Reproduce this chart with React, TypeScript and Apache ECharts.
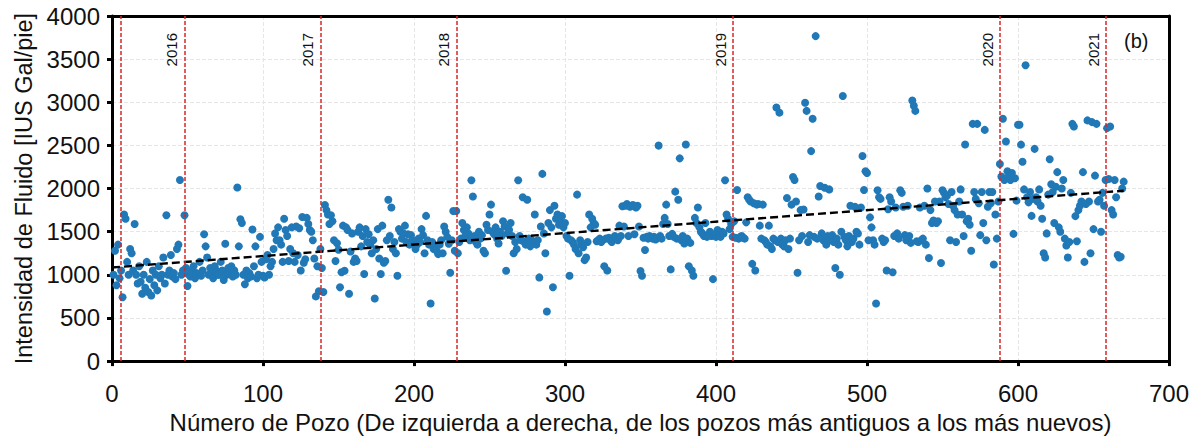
import React, { useEffect, useRef } from "react";
import * as echarts from "echarts";

// Fluid intensity per well, wells numbered 1..670 (x = index + 1)
const fluidIntensity: number[] = [
  1000, 1280, 880, 1350, 960, 1050, 740, 1700, 1650, 1150,
  1000, 1300, 1250, 1050, 1590, 1000, 900, 1100, 920, 780,
  1000, 850, 1150, 800, 950, 760, 1050, 880, 1000, 820,
  1100, 960, 1000, 1200, 900, 1690, 1000, 1050, 1230, 980,
  1020, 950, 1300, 1350, 2100, 1000, 1050, 1690, 1080, 870,
  1000, 980, 1050, 1100, 960, 1020, 1000, 1150, 990, 1050,
  1470, 1330, 1200, 1000, 1080, 1020, 960, 1100, 1050, 1000,
  1000, 1150, 1050, 940, 1360, 1000, 1080, 1020, 1100, 980,
  1050, 1000, 2013, 1330, 1645, 1600, 1000, 890, 1050, 960,
  1020, 980, 1525, 1100, 1330, 960, 1000, 1440, 1150, 990,
  970, 1180, 1230, 1000, 1100, 1150, 1300, 1480, 1400, 1550,
  1400, 1350, 1150, 1650, 1520, 1450, 1160, 1300, 1550, 1250,
  1150, 1560, 1230, 1540, 1050, 1670, 1140, 1180, 1660, 1590,
  1520, 1500, 1400, 1190, 750, 1100, 810, 1300, 1080, 800,
  1810, 1750, 1700, 1590, 1690, 1620, 1400, 1160, 1365, 1290,
  855, 1030, 1570, 1048, 1550, 1520, 780, 1270, 1480, 1150,
  1190, 1160, 1500, 1550, 1330, 1450, 1010, 1530, 1380, 1470,
  1350, 1250, 1400, 725, 1300, 1530, 1190, 1010, 1570, 1140,
  1160, 1400, 1870, 1450, 1780, 1300, 1380, 1250, 990, 1530,
  1500, 1420, 1480, 1570, 1380, 1470, 1350, 1460, 1400, 1360,
  1300, 1350, 1420, 1380, 1530, 1460, 1250, 1683, 1400, 1350,
  668, 1380, 1300, 1330, 1280, 1240, 1350, 1400, 1250, 1560,
  1500, 1440, 1360, 1025, 1400, 1740, 1280, 1740, 1250, 1380,
  1420, 1600, 1520, 1450, 1550, 1480, 1400, 2096, 1908, 1450,
  1380, 1350, 1500, 1420, 1460, 1280, 1250, 1580, 1520, 1700,
  1814, 1500, 1470, 1550, 1420, 1363, 1500, 1450, 1620, 1560,
  1048, 1480, 1520, 1600, 1450, 1250, 1380, 1300, 2096, 1450,
  1400, 1900, 1380, 1350, 1870, 1420, 1330, 1400, 1380, 1700,
  1350, 1400, 970, 1560, 2170, 1480, 1250, 575, 1600, 1750,
  1550, 856, 1800, 1650, 1700, 1580, 1620, 1680, 1550, 1600,
  1450, 1420, 990, 1400, 1380, 1350, 1300, 1930, 1250, 1400,
  1350, 1320, 1170, 1200, 1380, 1700, 1550, 1650, 1600, 1580,
  1390, 1400, 1420, 1380, 1400, 1100, 1420, 1050, 1430, 1400,
  1380, 1420, 1450, 1430, 1400, 1570, 1450, 1795, 1560, 1800,
  1820, 1450, 1790, 1800, 1810, 1470, 1780, 1800, 1560, 1045,
  990, 1430, 1288, 1440, 1420, 1450, 1430, 1420, 1440, 1410,
  1430, 2498, 1450, 1420, 1590, 1660, 1814, 1590, 1450, 1063,
  1475, 1440, 1964, 1420, 1870, 2350, 1400, 1450, 1363, 2510,
  1420, 1100, 1370, 1050, 990, 1660, 1600, 1780, 1550, 1500,
  1480, 1450, 1600, 1440, 1460, 1500, 1450, 950, 1470, 1440,
  1520, 1460, 1440, 1500, 1480, 2096, 1700, 1650, 1530, 1590,
  1440, 1620, 1430, 1983, 1420, 1440, 1450, 1430, 1420, 1608,
  1900, 1870, 1850, 1127, 1830, 1050, 1814, 1820, 1570, 1420,
  1814, 1400, 1380, 1350, 1570, 1330, 1300, 1420, 1400, 2940,
  1380, 2880, 1420, 1350, 1330, 1400, 1890, 1300, 1420, 1814,
  2133, 2100, 1850, 1025, 1400, 1750, 1450, 1758, 2995, 2900,
  1380, 1460, 2434, 2810, 1440, 3767, 1420, 1908, 2030, 1480,
  1400, 2010, 1350, 1450, 1990, 1400, 1460, 1380, 1080, 1420,
  1350, 1000, 1500, 3073, 1440, 1400, 1330, 1450, 1800, 1380,
  1420, 1790, 1500, 1480, 1350, 1780, 2378, 1983, 2200, 2180,
  1400, 1666, 1550, 1400, 1350, 668, 1980, 1900, 1880, 1420,
  1380, 1400, 1050, 1760, 1900, 1850, 1030, 1450, 1780, 1480,
  1420, 1980, 1950, 1790, 1460, 1400, 1800, 1450, 1370, 3020,
  2960, 2900, 1390, 1380, 1780, 1400, 1420, 1800, 1350, 2000,
  1194, 1750, 1600, 1630, 1850, 1600, 1620, 1850, 1138, 1980,
  1950, 1900, 1920, 1820, 1400, 1960, 1800, 1750, 1380, 1700,
  1850, 1990, 1700, 1450, 2510, 1620, 1650, 1580, 1280, 2750,
  1960, 1880, 2750, 1830, 1460, 1960, 1600, 2680, 1400, 1790,
  1960, 1830, 1960, 1120, 1700, 1420, 1850, 2285, 2140, 2810,
  2100, 2546, 2200, 2150, 2100, 2180, 1475, 2120, 1860, 2740,
  2740, 2509, 2310, 1990, 3429, 1900, 1840, 1960, 1683, 1880,
  2460, 1900, 1850, 1990, 1800, 1650, 1250, 1200, 1480, 1930,
  2340, 2050, 1960, 1600, 2020, 2190, 1550, 1500, 2000, 2100,
  1420, 1340, 1200, 1380, 1950, 2750, 2720, 1680, 1390, 1750,
  1800, 1850, 2190, 1150, 1820, 2790, 1850, 1250, 2770, 1530,
  2150, 2750, 1850, 1870, 1500, 1950, 1800, 2100, 2700, 2110,
  2720, 1750, 1700, 2100, 1900, 1230, 1200, 1210, 2000, 2080,
];

// Linear trend line endpoints
const trendX: number[] = [0, 670];
const trendY: number[] = [1085, 1975];

// Year boundary lines (well number) and their labels
const yearLineX: number[] = [6, 48, 138, 228, 411, 588, 658];
const yearLabels: string[] = ["", "2016", "2017", "2018", "2019", "2020", "2021"];

const xAxisName = "Número de Pozo (De izquierda a derecha, de los pozos más antiguos a los más nuevos)";
const yAxisName = "Intensidad de Fluido [IUS Gal/pie]";
const panelTag = "(b)";

const FONT = "'Liberation Sans', Arial, sans-serif";

export default function App() {
  const ref = useRef<HTMLDivElement>(null);

  useEffect(() => {
    document.body.style.margin = "0";
    if (!ref.current) return;
    const chart = echarts.init(ref.current, null, { renderer: "svg" });

    const scatterData = fluidIntensity.map((v, i) => [i + 1, v]);
    const trendData = trendX.map((x, i) => [x, trendY[i]]);

    const frameAxis = {
      axisLine: { show: true, onZero: false, lineStyle: { color: "#000", width: 3 } },
      axisTick: { show: false },
      axisLabel: { show: false },
      splitLine: { show: false },
    };

    chart.setOption({
      animation: false,
      backgroundColor: "#ffffff",
      textStyle: { fontFamily: FONT },
      grid: {
        left: 112,
        right: 25,
        top: 16,
        bottom: 68,
        show: false,
      },
      xAxis: [
        {
          type: "value",
          min: 0,
          max: 700,
          interval: 100,
          name: xAxisName,
          nameLocation: "middle",
          nameGap: 41,
          nameTextStyle: { fontSize: 24, color: "#111", fontFamily: FONT },
          axisLine: { show: true, onZero: false, lineStyle: { color: "#000", width: 3 } },
          axisTick: { show: true, inside: false, length: 5, lineStyle: { color: "#000", width: 3 } },
          axisLabel: {
            fontSize: 24,
            color: "#111",
            margin: 20,
            fontFamily: FONT,
            formatter: (v: number) => String(v),
          },
          splitLine: { show: true, lineStyle: { color: "#e6e6e6", type: "dashed", width: 1 } },
        },
        {
          type: "value",
          min: 0,
          max: 700,
          position: "top",
          ...frameAxis,
        },
      ],
      yAxis: [
        {
          type: "value",
          min: 0,
          max: 4000,
          interval: 500,
          name: yAxisName,
          nameLocation: "middle",
          nameGap: 73,
          nameTextStyle: { fontSize: 23.5, color: "#111", fontFamily: FONT },
          axisLine: { show: true, onZero: false, lineStyle: { color: "#000", width: 3 } },
          axisTick: { show: true, inside: false, length: 5, lineStyle: { color: "#000", width: 3 } },
          axisLabel: {
            fontSize: 24,
            color: "#111",
            margin: 12,
            fontFamily: FONT,
            formatter: (v: number) => String(v),
          },
          splitLine: { show: true, lineStyle: { color: "#e6e6e6", type: "dashed", width: 1 } },
        },
        {
          type: "value",
          min: 0,
          max: 4000,
          position: "right",
          ...frameAxis,
        },
      ],
      series: [
        {
          type: "scatter",
          data: scatterData,
          symbol: "circle",
          symbolSize: 8,
          itemStyle: { color: "#2078b6", opacity: 1 },
          z: 2,
        },
        {
          type: "line",
          data: trendData,
          symbol: "none",
          lineStyle: { color: "#000", width: 2.4, type: [8, 4] },
          z: 3,
          markLine: {
            silent: true,
            symbol: "none",
            z: 4,
            lineStyle: { color: "#d62728", width: 1.5, type: [4, 2] },
            label: {
              show: true,
              position: "insideEndTop",
              fontSize: 15,
              color: "#111",
              fontFamily: FONT,
              distance: [17, 5],
            },
            data: yearLineX.map((x, i) => ({
              xAxis: x,
              label: { formatter: yearLabels[i] },
            })),
          },
        },
      ],
      graphic: [
        {
          type: "text",
          left: 1124,
          top: 31,
          style: { text: panelTag, fontSize: 20, fill: "#111", fontFamily: FONT },
        },
      ],
    });

    return () => chart.dispose();
  }, []);

  return <div ref={ref} style={{ width: 1194, height: 439 }} />;
}
